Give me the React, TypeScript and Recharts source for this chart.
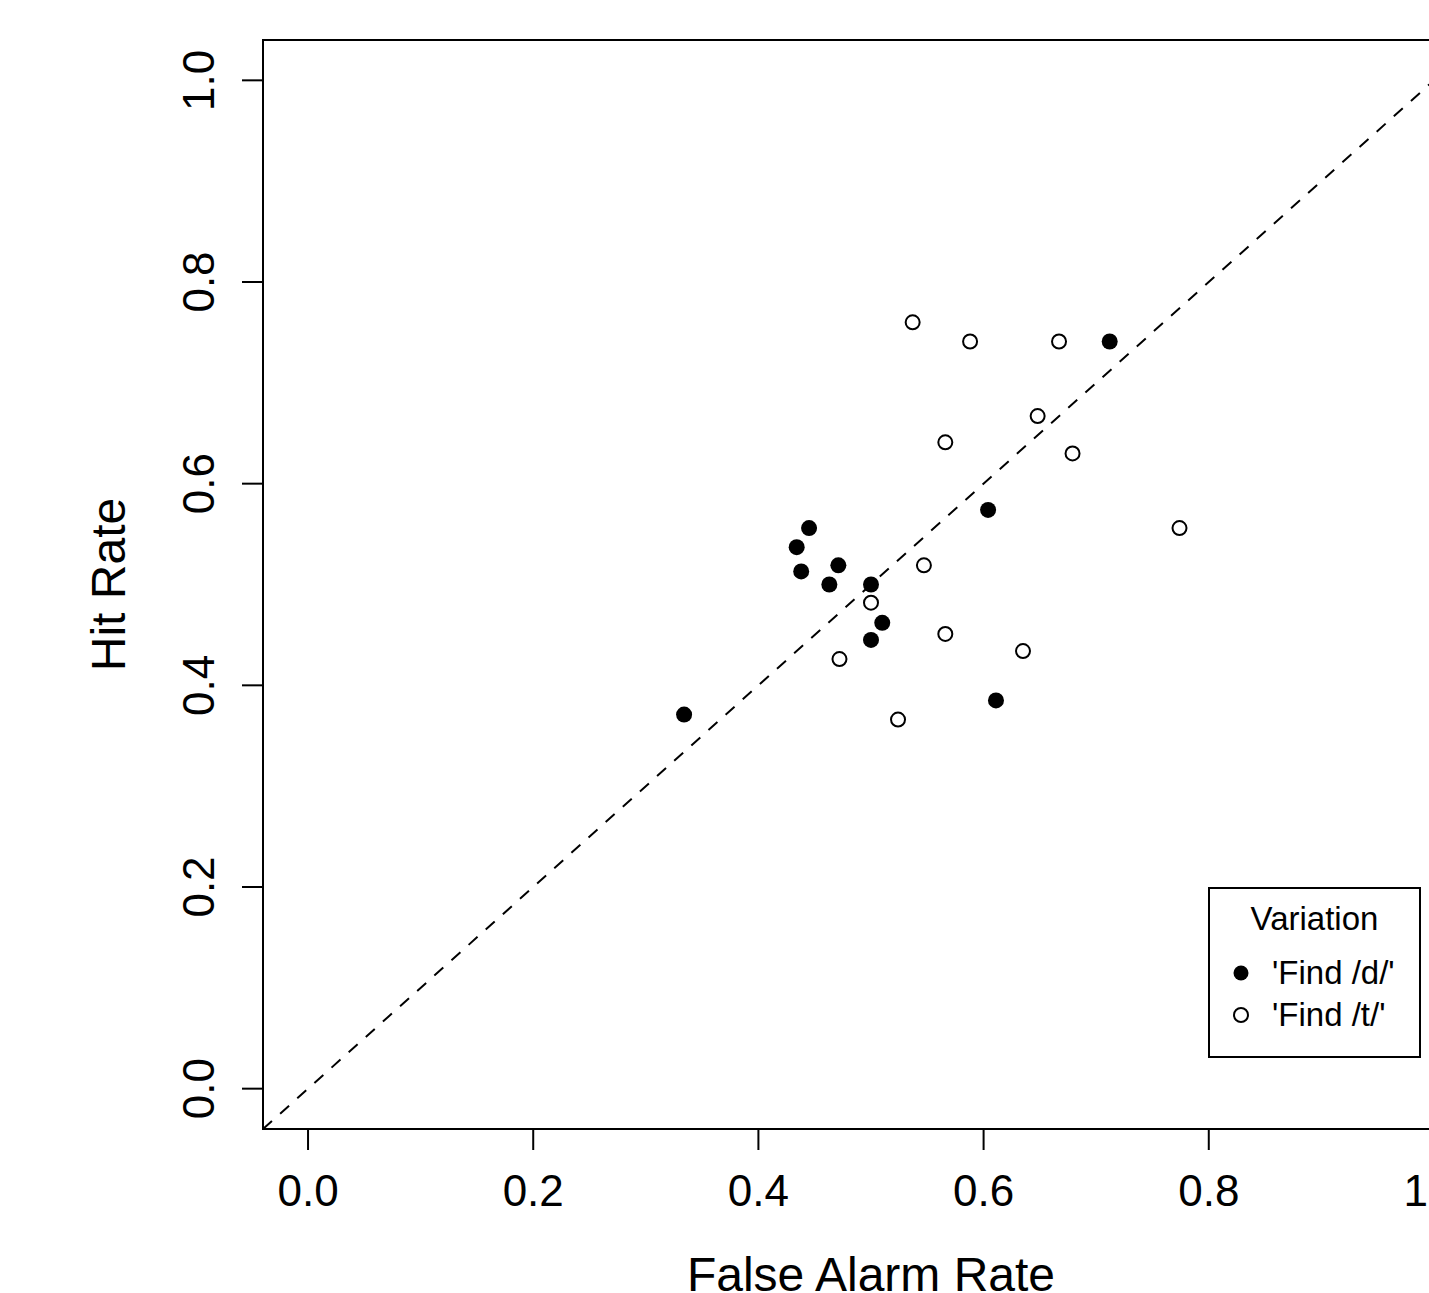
import {
  ScatterChart,
  Scatter,
  XAxis,
  YAxis,
  ReferenceLine,
  ReferenceArea,
  Label,
} from 'recharts'

// Taux de fausses alarmes / taux de réussite par sujet
const findDFalseAlarm = [0.334, 0.434, 0.438, 0.445, 0.463, 0.471, 0.5, 0.5, 0.51, 0.604, 0.611, 0.712]
const findDHit = [0.371, 0.537, 0.513, 0.556, 0.5, 0.519, 0.5, 0.445, 0.462, 0.574, 0.385, 0.741]

const findTFalseAlarm = [0.537, 0.588, 0.667, 0.648, 0.566, 0.679, 0.774, 0.547, 0.5, 0.566, 0.635, 0.472, 0.524]
const findTHit = [0.76, 0.741, 0.741, 0.667, 0.641, 0.63, 0.556, 0.519, 0.482, 0.451, 0.434, 0.426, 0.366]

const axisTicks = [0, 0.2, 0.4, 0.6, 0.8, 1]
const axisDomain = [-0.04, 1.04]
const diagonal = [
  { x: -0.04, y: -0.04 },
  { x: 1.04, y: 1.04 },
]

const legendTitle = 'Variation'
const legendLabels = ["'Find /d/'", "'Find /t/'"]

const FONT = '"Liberation Sans", Arial, Helvetica, sans-serif'

const findD = findDFalseAlarm.map((fa, i) => ({ fa, hit: findDHit[i] }))
const findT = findTFalseAlarm.map((fa, i) => ({ fa, hit: findTHit[i] }))

// ── Ticks ────────────────────────────────────────────────────

function XTick({ x, y, payload }: any) {
  return (
    <text x={x} y={1206} textAnchor="middle" fontSize={44} fontFamily={FONT} fill="#000">
      {Number(payload.value).toFixed(1)}
    </text>
  )
}

function YTick({ y, payload }: any) {
  return (
    <text
      x={214}
      y={y}
      transform={`rotate(-90, 214, ${y})`}
      textAnchor="middle"
      fontSize={44}
      fontFamily={FONT}
      fill="#000"
    >
      {Number(payload.value).toFixed(1)}
    </text>
  )
}

// ── Points ───────────────────────────────────────────────────

const FilledDot = (p: any) => <circle cx={p.cx} cy={p.cy} r={8} fill="#000" />
const OpenDot = (p: any) => (
  <circle cx={p.cx} cy={p.cy} r={7} fill="none" stroke="#000" strokeWidth={2} />
)

// ── Légende ──────────────────────────────────────────────────

function LegendBox() {
  return (
    <svg
      width={213}
      height={171}
      style={{ position: 'absolute', left: 1208, top: 887 }}
    >
      <rect x={1} y={1} width={211} height={169} fill="#fff" stroke="#000" strokeWidth={2} />
      <text x={106.5} y={43} textAnchor="middle" fontSize={33} fontFamily={FONT} fill="#000">
        {legendTitle}
      </text>
      <circle cx={33} cy={86} r={7.5} fill="#000" />
      <circle cx={33} cy={128} r={7} fill="none" stroke="#000" strokeWidth={2} />
      <text x={64} y={97} fontSize={33} fontFamily={FONT} fill="#000">
        {legendLabels[0]}
      </text>
      <text x={64} y={139} fontSize={33} fontFamily={FONT} fill="#000">
        {legendLabels[1]}
      </text>
    </svg>
  )
}

export default function App() {
  return (
    <div
      style={{
        position: 'absolute',
        left: 0,
        top: 0,
        width: 1429,
        height: 1293,
        overflow: 'hidden',
        background: '#fff',
      }}
    >
      <ScatterChart width={1500} height={1293} margin={{ top: 40, right: 21, left: 0, bottom: 0 }}>
        <XAxis
          type="number"
          dataKey="fa"
          domain={axisDomain}
          ticks={axisTicks}
          allowDataOverflow
          height={164}
          axisLine={false}
          tickSize={21}
          tickLine={{ stroke: '#000', strokeWidth: 2 }}
          tick={<XTick />}
        >
          <Label
            content={({ viewBox }: any) => (
              <text
                x={viewBox.x + viewBox.width / 2}
                y={1291}
                textAnchor="middle"
                fontSize={48}
                fontFamily={FONT}
                fill="#000"
              >
                False Alarm Rate
              </text>
            )}
          />
        </XAxis>
        <YAxis
          type="number"
          dataKey="hit"
          domain={axisDomain}
          ticks={axisTicks}
          allowDataOverflow
          width={263}
          axisLine={false}
          tickSize={21}
          tickLine={{ stroke: '#000', strokeWidth: 2 }}
          tick={<YTick />}
        >
          <Label
            content={({ viewBox }: any) => {
              const cy = viewBox.y + viewBox.height / 2
              return (
                <text
                  x={125}
                  y={cy}
                  transform={`rotate(-90, 125, ${cy})`}
                  textAnchor="middle"
                  fontSize={48}
                  fontFamily={FONT}
                  fill="#000"
                >
                  Hit Rate
                </text>
              )
            }}
          />
        </YAxis>

        {/* Cadre du graphique */}
        <ReferenceArea
          x1={axisDomain[0]}
          x2={axisDomain[1]}
          y1={axisDomain[0]}
          y2={axisDomain[1]}
          fill="none"
          fillOpacity={0}
          stroke="#000"
          strokeWidth={2}
          strokeOpacity={1}
        />

        {/* Diagonale y = x */}
        <ReferenceLine segment={diagonal} stroke="#000" strokeWidth={2} strokeDasharray="12 11" />

        <Scatter data={findD} shape={FilledDot} isAnimationActive={false} />
        <Scatter data={findT} shape={OpenDot} isAnimationActive={false} />
      </ScatterChart>
      <LegendBox />
    </div>
  )
}
